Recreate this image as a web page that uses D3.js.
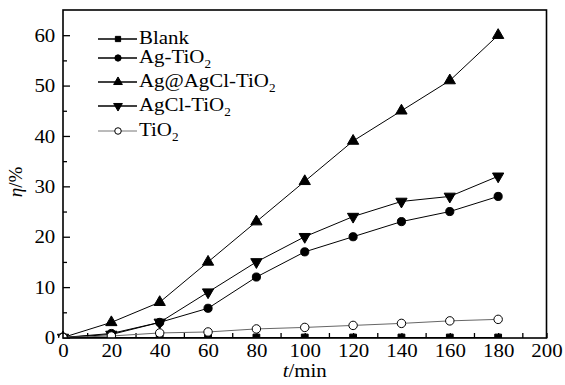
<!DOCTYPE html>
<html><head><meta charset="utf-8">
<script src="https://cdn.jsdelivr.net/npm/d3@7"></script>
<style>body{margin:0;background:#fff}svg{display:block}text{font-family:"Liberation Serif","Times New Roman",serif;fill:#000}</style>
</head><body><svg id="c" width="565" height="385"></svg>
<script>
const times = [0,20,40,60,80,100,120,140,160,180];
const blank = [0,0,0,0,0,0,0,0,0,0];
const agTiO2 = [0,0.8,3,5.8,12,17,20,23,25,28];
const agAgClTiO2 = [0,3,7,15,23,31,39,45,51,60];
const agClTiO2 = [0,0.6,3,9,15,20,24,27,28,32];
const tiO2 = [0,0.3,0.9,1.1,1.7,2,2.4,2.8,3.3,3.6];
const seriesNames = ["Blank","Ag-TiO2","Ag@AgCl-TiO2","AgCl-TiO2","TiO2"];
const xTickLabels = [0,20,40,60,80,100,120,140,160,180,200];
const yTickLabels = [0,10,20,30,40,50,60];

const SX = 1.1; // horizontal stretch of glyphs seen in the reference
const svg = d3.select("#c");
const L=63, R=546.5, T=10, B=338;
const x = d3.scaleLinear().domain([0,200]).range([L,R]);
const y = d3.scaleLinear().domain([0,65]).range([337.5,T]);

const series = [
  {name:seriesNames[0], vals:blank, sym:d3.symbolSquare, size:46, rot:0, fill:"#000", stroke:"#000"},
  {name:seriesNames[1], vals:agTiO2, sym:d3.symbolCircle, size:52, rot:0, fill:"#000", stroke:"#000"},
  {name:seriesNames[2], vals:agAgClTiO2, sym:d3.symbolTriangle, size:55, rot:0, fill:"#000", stroke:"#000"},
  {name:seriesNames[3], vals:agClTiO2, sym:d3.symbolTriangle, size:55, rot:180, fill:"#000", stroke:"#000"},
  {name:seriesNames[4], vals:tiO2, sym:d3.symbolCircle, size:56, rot:0, fill:"#fff", stroke:"#000", line:"#666"}
];

svg.append("clipPath").attr("id","clip").append("rect")
  .attr("x",L-8).attr("y",T).attr("width",R-L+16).attr("height",B-T);

// axes ticks (inside)
const xMinor = d3.range(0,201,10);
const gx = svg.append("g").attr("transform",`translate(0,${B})`)
  .call(d3.axisBottom(x).tickValues(xMinor).tickSize(-5).tickPadding(6)
    .tickFormat(d => xTickLabels.includes(d) ? d : ""));
gx.select(".domain").remove();
gx.selectAll("line").attr("stroke","#000").attr("stroke-width",1.3);
gx.selectAll("text").style("font-size","19px").attr("transform",`scale(${SX},1)`);

const gy = svg.append("g").attr("transform",`translate(${L},0)`)
  .call(d3.axisLeft(y).tickValues(d3.range(0,61,5)).tickSize(-4).tickPadding(7)
    .tickFormat(d => yTickLabels.includes(d) ? d : ""));
gy.select(".domain").remove();
gy.selectAll("line").attr("stroke","#000").attr("stroke-width",1.3)
  .attr("x2", d => yTickLabels.includes(d) ? 7 : 4);
gy.selectAll("text").style("font-size","19px").attr("transform",`scale(${SX},1)`);

// data
const plot = svg.append("g").attr("clip-path","url(#clip)");
const line = d3.line().x((d,i)=>x(times[i])).y(d=>y(d));
series.forEach(s => {
  plot.append("path").datum(s.vals).attr("d",line).attr("fill","none")
    .attr("stroke", s.line || "#000").attr("stroke-width",1);
  plot.selectAll(null).data(s.vals).enter().append("path")
    .attr("d", d3.symbol().type(s.sym).size(s.size))
    .attr("transform",(d,i)=>`translate(${x(times[i])},${y(d)}) rotate(${s.rot})`)
    .attr("fill", s.fill).attr("stroke", s.stroke).attr("stroke-width",1);
});

// frame
svg.append("rect").attr("x",L).attr("y",T).attr("width",R-L).attr("height",B-T)
  .attr("fill","none").attr("stroke","#000").attr("stroke-width",1.6);

// legend
const legY = [39,58,82,106,131];
const leg = svg.append("g");
series.forEach((s,i) => {
  const g = leg.append("g").attr("transform",`translate(0,${legY[i]})`);
  g.append("line").attr("x1",98).attr("x2",137).attr("y1",0).attr("y2",0)
    .attr("stroke", s.line ? "#777" : "#000").attr("stroke-width", s.line ? 1 : 1.5);
  g.append("path").attr("d", d3.symbol().type(s.sym).size(s.size*0.6))
    .attr("transform",`translate(118,0) rotate(${s.rot})`)
    .attr("fill", s.fill).attr("stroke", s.stroke).attr("stroke-width",1);
  const t = g.append("text").attr("transform",`translate(139,5) scale(${SX},1)`).style("font-size","19px");
  const m = s.name.match(/^(.*)2$/);
  if (m) {
    t.append("tspan").text(m[1]);
    t.append("tspan").attr("dy",5).style("font-size","12px").text("2");
  } else t.text(s.name);
});

// axis titles
const xt = svg.append("text").attr("transform",`translate(${(L+R)/2},377) scale(${SX},1)`).attr("text-anchor","middle").style("font-size","19px");
xt.append("tspan").style("font-style","italic").text("t");
xt.append("tspan").text("/min");
const yt = svg.append("text").attr("transform","translate(22,182) rotate(-90)").attr("text-anchor","middle").style("font-size","19px");
yt.append("tspan").style("font-style","italic").text("η");
yt.append("tspan").text("/%");
</script></body></html>
